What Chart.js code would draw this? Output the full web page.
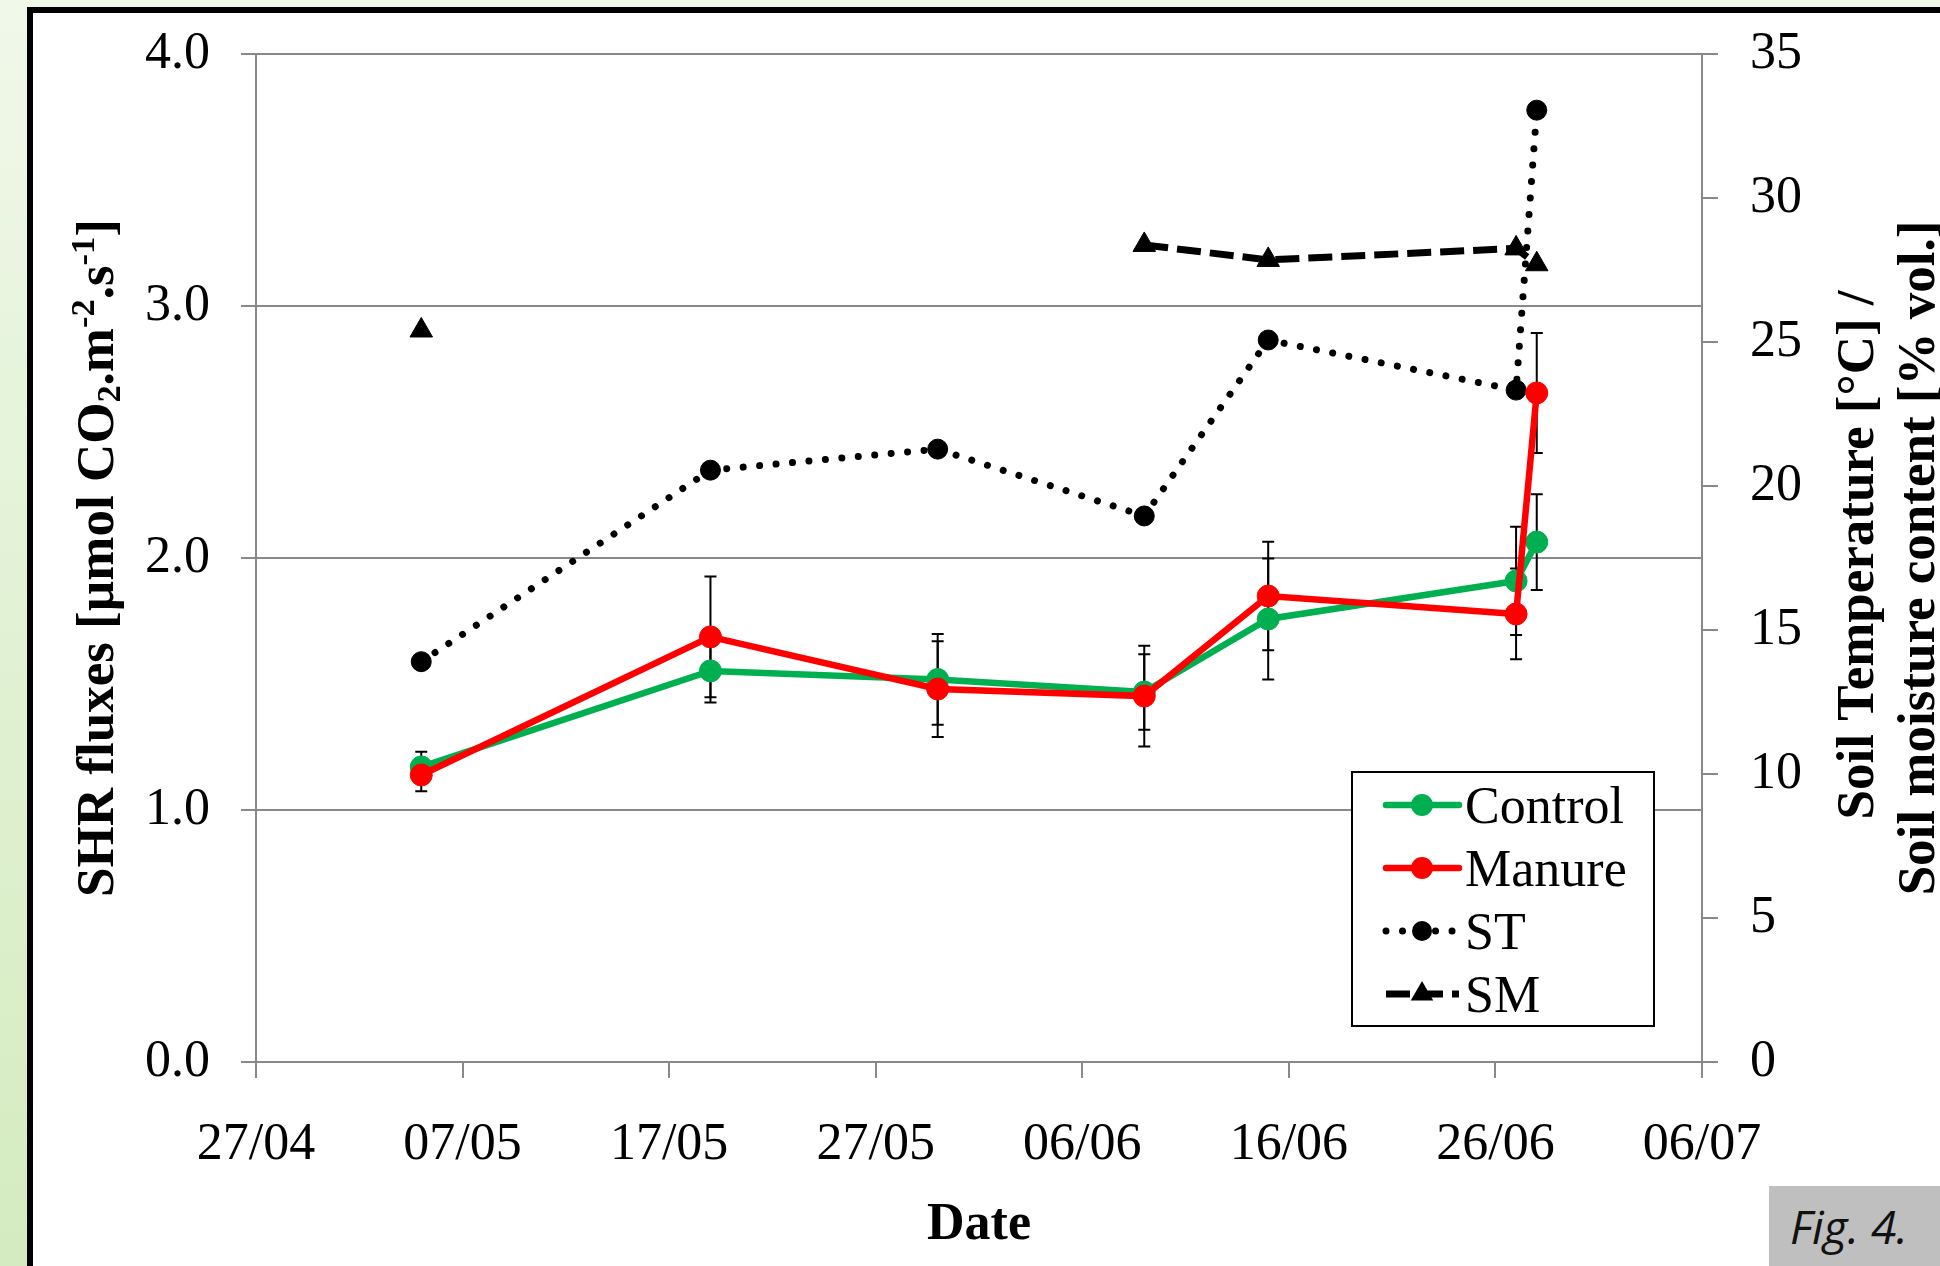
<!DOCTYPE html>
<html>
<head>
  <meta charset="utf-8">
  <title>SHR fluxes</title>
  <style>
    html, body {
      margin: 0;
      padding: 0;
    }
    body {
      width: 1940px;
      height: 1266px;
      overflow: hidden;
      position: relative;
      background: linear-gradient(to bottom, #eff8e9, #d4ebbf);
    }
    #frame {
      position: absolute;
      left: 27px;
      top: 7px;
      right: 0;
      bottom: 0;
      background: #fff;
      border-left: 6px solid #000;
      border-top: 6px solid #000;
    }
    #chart {
      position: absolute;
      left: 0;
      top: 0;
    }
    #fig {
      position: absolute;
      left: 1769px;
      top: 1186px;
      width: 171px;
      height: 80px;
      box-sizing: border-box;
      padding-left: 21px;
      background: #bfbfbf;
      color: #111;
      font: italic 46px 'Open Sans', sans-serif;
      line-height: 80px;
    }
  </style>
</head>
<body>
  <div id="frame"></div>
  <canvas id="chart" width="1940" height="1266"></canvas>
  <div id="fig">Fig. 4.</div>

  <script src="https://cdn.jsdelivr.net/npm/chart.js@4.4.0/dist/chart.umd.min.js"></script>
  <script>
    // measurement dates (dd/mm)
    var dates = ['05/05', '19/05', '30/05', '09/06', '15/06', '27/06', '28/06'];
    var startDate = '27/04';
    var tickLabels = ['27/04', '07/05', '17/05', '27/05', '06/06', '16/06', '26/06', '06/07'];

    // SHR fluxes (left axis)
    var control = [1.171, 1.552, 1.518, 1.468, 1.758, 1.909, 2.063];
    var manure = [1.139, 1.687, 1.480, 1.452, 1.849, 1.778, 2.655];
    var controlErr = [0.06, 0.125, 0.18, 0.15, 0.24, 0.215, 0.19];
    var manureErr = [0.065, 0.24, 0.19, 0.20, 0.215, 0.18, 0.238];

    // soil temperature / soil moisture (right axis)
    var st = [13.9, 20.55, 21.28, 18.96, 25.07, 23.33, 33.05];
    var sm = [25.4, null, null, 28.37, 27.85, 28.25, 27.7];

    var serif = "'Times New Roman', 'Liberation Serif', serif";
    var grey = '#898989';

    function dayOf(s) {
      var p = s.split('/');
      return Date.UTC(2013, +p[1] - 1, +p[0]) / 86400000;
    }
    var day0 = dayOf(startDate);

    function points(vals) {
      return dates.map(function(d, i) {
        return { x: dayOf(d) - day0, y: vals[i] };
      });
    }

    var errorBars = {
      id: 'errorBars',
      beforeDatasetsDraw: function(chart) {
        var ctx = chart.ctx;
        var xs = chart.scales.x, ys = chart.scales.y;
        ctx.save();
        ctx.strokeStyle = '#000';
        ctx.lineWidth = 2;
        [[control, controlErr], [manure, manureErr]].forEach(function(pair) {
          dates.forEach(function(d, i) {
            var x = xs.getPixelForValue(dayOf(d) - day0);
            var hi = ys.getPixelForValue(pair[0][i] + pair[1][i]);
            var lo = ys.getPixelForValue(pair[0][i] - pair[1][i]);
            ctx.beginPath();
            ctx.moveTo(x, hi); ctx.lineTo(x, lo);
            ctx.moveTo(x - 6, hi); ctx.lineTo(x + 6, hi);
            ctx.moveTo(x - 6, lo); ctx.lineTo(x + 6, lo);
            ctx.stroke();
          });
        });
        ctx.restore();
      }
    };

    // rotated titles with sub/superscripts
    function drawRich(ctx, parts, size) {
      var total = 0;
      parts.forEach(function(p) {
        ctx.font = 'bold ' + (p[1] ? size * 0.65 : size) + 'px ' + serif;
        p.w = ctx.measureText(p[0]).width;
        total += p.w;
      });
      var x = -total / 2;
      parts.forEach(function(p) {
        ctx.font = 'bold ' + (p[1] ? size * 0.65 : size) + 'px ' + serif;
        var dy = p[1] === 1 ? size * 0.14 : (p[1] === 2 ? -size * 0.36 : 0);
        ctx.fillText(p[0], x, dy);
        x += p.w;
      });
    }

    var axisTitles = {
      id: 'axisTitles',
      afterDraw: function(chart) {
        var ctx = chart.ctx;
        var cy = (chart.chartArea.top + chart.chartArea.bottom) / 2;
        ctx.save();
        ctx.fillStyle = '#000';
        ctx.textBaseline = 'alphabetic';
        ctx.textAlign = 'left';

        ctx.save();
        ctx.translate(113, cy);
        ctx.rotate(-Math.PI / 2);
        drawRich(ctx, [['SHR fluxes [\u00b5mol CO', 0], ['2', 1], ['.m', 0], ['-2', 2], ['.s', 0], ['-1', 2], [']', 0]], 53);
        ctx.restore();

        ctx.save();
        ctx.translate(1873, cy - 3);
        ctx.rotate(-Math.PI / 2);
        drawRich(ctx, [['Soil Temperature [\u00b0C] /', 0]], 53);
        ctx.restore();

        ctx.save();
        ctx.translate(1934, cy);
        ctx.rotate(-Math.PI / 2);
        drawRich(ctx, [['Soil moisture content [% vol.]', 0]], 53);
        ctx.restore();

        ctx.restore();
      }
    };

    var boxLegend = {
      id: 'boxLegend',
      afterDraw: function(chart) {
        var ctx = chart.ctx;
        var ca = chart.chartArea;
        var left = ca.right - 350, top = ca.bottom - 290;
        ctx.save();
        ctx.fillStyle = '#fff';
        ctx.fillRect(left, top, 302, 254);
        ctx.strokeStyle = '#000';
        ctx.lineWidth = 2;
        ctx.strokeRect(left, top, 302, 254);

        chart.data.datasets.forEach(function(ds, i) {
          var y = top + 33 + i * 63;
          ctx.save();
          ctx.strokeStyle = ds.borderColor;
          ctx.lineWidth = ds.borderWidth;
          ctx.lineCap = ds.borderCapStyle || 'round';
          ctx.setLineDash(ds.borderDash || []);
          ctx.beginPath();
          ctx.moveTo(left + 34, y);
          ctx.lineTo(left + 107, y);
          ctx.stroke();
          ctx.restore();
          ctx.fillStyle = ds.backgroundColor;
          ctx.beginPath();
          if ((ds.pointStyle || 'circle') === 'circle') {
            ctx.arc(left + 70, y, ds.pointRadius, 0, Math.PI * 2);
          } else {
            var r = ds.pointRadius;
            ctx.moveTo(left + 70, y - r);
            ctx.lineTo(left + 70 + r * 0.866, y + r / 2);
            ctx.lineTo(left + 70 - r * 0.866, y + r / 2);
            ctx.closePath();
          }
          ctx.fill();
          ctx.fillStyle = '#000';
          ctx.font = '52px ' + serif;
          ctx.textBaseline = 'alphabetic';
          ctx.fillText(ds.label, left + 113, y + 18);
        });
        ctx.restore();
      }
    };

    function fixWidth(w) {
      return function(s) {
        s.width = w;
        s.paddingTop = 0;
        s.paddingBottom = 0;
      };
    }

    Chart.defaults.font.family = serif;
    Chart.defaults.color = '#000';

    new Chart(document.getElementById('chart'), {
      type: 'line',
      data: {
        datasets: [{
          label: 'Control',
          data: points(control),
          yAxisID: 'y',
          borderColor: '#00b050',
          backgroundColor: '#00b050',
          pointBackgroundColor: '#00b050',
          pointBorderColor: '#00b050',
          borderWidth: 6.5,
          pointRadius: 11,
          pointBorderWidth: 1,
          order: 2
        }, {
          label: 'Manure',
          data: points(manure),
          yAxisID: 'y',
          borderColor: '#ff0000',
          backgroundColor: '#ff0000',
          pointBackgroundColor: '#ff0000',
          pointBorderColor: '#ff0000',
          borderWidth: 6.5,
          pointRadius: 11,
          pointBorderWidth: 1,
          order: 1
        }, {
          label: 'ST',
          data: points(st),
          yAxisID: 'y2',
          borderColor: '#000',
          backgroundColor: '#000',
          pointBackgroundColor: '#000',
          borderWidth: 7,
          borderDash: [0.01, 16.5],
          borderCapStyle: 'round',
          pointRadius: 10,
          pointBorderWidth: 1,
          order: 3
        }, {
          label: 'SM',
          data: points(sm),
          yAxisID: 'y2',
          borderColor: '#000',
          backgroundColor: '#000',
          pointBackgroundColor: '#000',
          borderWidth: 7,
          borderDash: [24, 9],
          borderCapStyle: 'butt',
          pointStyle: 'triangle',
          pointRadius: 13,
          pointBorderWidth: 1,
          spanGaps: false,
          order: 4
        }]
      },
      options: {
        responsive: false,
        animation: false,
        devicePixelRatio: 1,
        layout: { padding: { top: 54, left: 0, right: 0, bottom: 0 } },
        plugins: {
          legend: { display: false },
          tooltip: { enabled: false }
        },
        scales: {
          x: {
            type: 'linear',
            min: 0,
            max: 70,
            ticks: {
              stepSize: 10,
              padding: 36,
              maxRotation: 0,
              autoSkip: false,
              font: { size: 52 },
              callback: function(v) { return tickLabels[Math.round(v / 10)]; }
            },
            grid: { drawOnChartArea: false, color: grey, lineWidth: 2, tickLength: 16 },
            border: { color: grey, width: 2 },
            title: {
              display: true,
              text: 'Date',
              font: { size: 52, weight: 'bold' },
              padding: { top: 0, bottom: 9 }
            },
            afterFit: function(s) {
              s.height = 204;
              s.paddingLeft = 0;
              s.paddingRight = 0;
            }
          },
          y: {
            position: 'left',
            min: 0,
            max: 4,
            ticks: {
              stepSize: 1,
              padding: 31,
              font: { size: 52 },
              callback: function(v) { return v.toFixed(1); }
            },
            grid: { color: grey, lineWidth: 2, tickLength: 15 },
            border: { color: grey, width: 2 },
            afterFit: fixWidth(256)
          },
          y2: {
            position: 'right',
            min: 0,
            max: 35,
            ticks: {
              stepSize: 5,
              padding: 32,
              font: { size: 52 }
            },
            grid: { drawOnChartArea: false, color: grey, lineWidth: 2, tickLength: 16 },
            border: { color: grey, width: 2 },
            afterFit: fixWidth(238)
          }
        }
      },
      plugins: [errorBars, axisTitles, boxLegend]
    });
  </script>
</body>
</html>
